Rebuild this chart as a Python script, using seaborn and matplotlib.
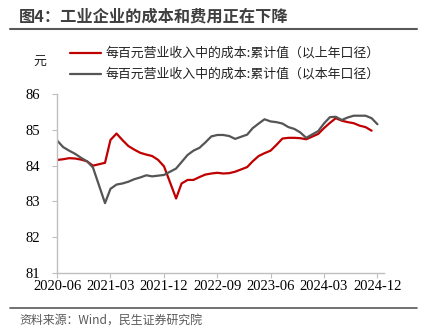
import matplotlib
matplotlib.use("Agg")
import matplotlib.pyplot as plt
import seaborn as sns
import pandas as pd
import numpy as np
from matplotlib.lines import Line2D

# ---- data (monthly, January not published) ----
months = ["2020-06", "2020-07", "2020-08", "2020-09", "2020-10", "2020-11", "2020-12",
          "2021-02", "2021-03", "2021-04", "2021-05", "2021-06", "2021-07", "2021-08",
          "2021-09", "2021-10", "2021-11", "2021-12",
          "2022-02", "2022-03", "2022-04", "2022-05", "2022-06", "2022-07", "2022-08",
          "2022-09", "2022-10", "2022-11", "2022-12",
          "2023-02", "2023-03", "2023-04", "2023-05", "2023-06", "2023-07", "2023-08",
          "2023-09", "2023-10", "2023-11", "2023-12",
          "2024-02", "2024-03", "2024-04", "2024-05", "2024-06", "2024-07", "2024-08",
          "2024-09", "2024-10", "2024-11", "2024-12"]

cost_prev_year_basis = [84.16, 84.18, 84.21, 84.20, 84.17, 84.12, 84.00,
                        84.08, 84.72, 84.90, 84.72, 84.55, 84.45, 84.36,
                        84.31, 84.27, 84.16, 83.98,
                        83.08, 83.50, 83.60, 83.60, 83.68, 83.75, 83.78,
                        83.80, 83.78, 83.79, 83.83,
                        83.96, 84.12, 84.27, 84.35, 84.42, 84.58, 84.76,
                        84.78, 84.78, 84.77, 84.74,
                        84.89, 85.05, 85.20, 85.33, 85.26, 85.22, 85.19,
                        85.12, 85.08, 84.98, np.nan]

cost_this_year_basis = [84.70, 84.52, 84.42, 84.33, 84.22, 84.12, 83.95,
                        82.95, 83.35, 83.47, 83.50, 83.55, 83.62, 83.67,
                        83.73, 83.70, 83.72, 83.74,
                        83.92, 84.10, 84.30, 84.42, 84.50, 84.65, 84.82,
                        84.86, 84.86, 84.83, 84.75,
                        84.87, 85.05, 85.18, 85.30, 85.24, 85.22, 85.18,
                        85.08, 85.03, 84.93, 84.78,
                        84.97, 85.18, 85.36, 85.37, 85.28, 85.35, 85.40,
                        85.40, 85.40, 85.33, 85.16]

series_names = ["每百元营业收入中的成本:累计值（以上年口径）",
                "每百元营业收入中的成本:累计值（以本年口径）"]
tick_labels = ["2020-06", "2021-03", "2021-12", "2022-09", "2023-06", "2024-03", "2024-12"]
y_ticks = [81, 82, 83, 84, 85, 86]

title_text = "图4：工业企业的成本和费用正在下降"
source_text = "资料来源：Wind，民生证券研究院"
unit_text = "元"

# ---- build table ----
dates = pd.to_datetime(months)
df = pd.concat([
    pd.DataFrame({"date": dates, "value": cost_prev_year_basis, "series": series_names[0]}),
    pd.DataFrame({"date": dates, "value": cost_this_year_basis, "series": series_names[1]}),
]).dropna()

sns.set_theme(style="white")
plt.rcParams['font.family'] = ['Noto Sans CJK SC', 'DejaVu Sans']
plt.rcParams['axes.unicode_minus'] = False

fig = plt.figure(figsize=(4.33, 3.34), dpi=100)
ax = fig.add_axes([57.3 / 433, 1 - 272.7 / 334, (383.5 - 57.3) / 433, (272.7 - 94.3) / 334])

palette = {series_names[0]: "#C00000", series_names[1]: "#555555"}
sns.lineplot(data=df, x="date", y="value", hue="series", palette=palette,
             linewidth=1.6, ax=ax, legend=False, sort=True)

ax.set_ylim(81, 86)
ax.set_xlim(pd.Timestamp("2020-06-01"), pd.Timestamp("2025-01-01"))
ax.set_yticks(y_ticks)
ax.set_xticks(pd.to_datetime(tick_labels))
ax.set_xticklabels(tick_labels)
ax.set_xlabel("")
ax.set_ylabel("")

serif = ['Liberation Serif', 'DejaVu Serif']
for lab in ax.get_xticklabels() + ax.get_yticklabels():
    lab.set_family(serif)
    lab.set_fontsize(10.5)
    lab.set_color("#000000")

for s in ["top", "right"]:
    ax.spines[s].set_visible(False)
for s in ["left", "bottom"]:
    ax.spines[s].set_color("#BFBFBF")
    ax.spines[s].set_linewidth(1.0)
ax.tick_params(axis="both", which="major", direction="out", length=3.5, width=0.8,
               color="#BFBFBF", left=True, bottom=True, pad=2)
ax.tick_params(axis="y", pad=9)
ax.patch.set_alpha(0)

# legend (manual, top left)
for name, yy in zip(series_names, [53, 74]):
    fig.add_artist(Line2D([70 / 433, 101 / 433], [1 - yy / 334, 1 - yy / 334],
                          color=palette[name], linewidth=1.6))
    fig.text(106 / 433, 1 - yy / 334, name, fontsize=9.3, va="center", ha="left",
             color="#222222")

fig.text(40 / 433, 1 - 62 / 334, unit_text, fontsize=9.3, va="center", ha="center",
         color="#222222")

# title and rules
fig.text(19 / 433, 1 - 16 / 334, title_text, fontsize=11.7, fontweight="bold",
         va="center", ha="left", color="#3F3F3F")
fig.add_artist(Line2D([10 / 433, 417 / 433], [1 - 29 / 334, 1 - 29 / 334],
                      color="#595959", linewidth=1.5))
fig.add_artist(Line2D([10 / 433, 417 / 433], [1 - 307.5 / 334, 1 - 307.5 / 334],
                      color="#595959", linewidth=1.2))
fig.text(19 / 433, 1 - 320 / 334, source_text, fontsize=8.6, va="center", ha="left",
         color="#595959")

fig.savefig("out.png", dpi=100)
